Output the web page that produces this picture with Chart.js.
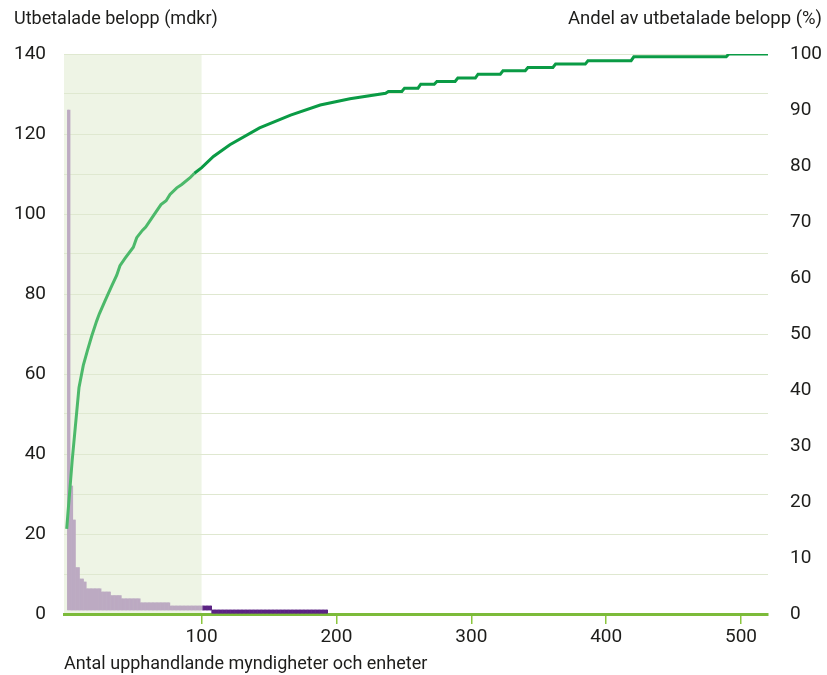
<!DOCTYPE html>
<html>
<head>
<meta charset="utf-8">
<script src="https://cdn.jsdelivr.net/npm/chart.js@4/dist/chart.umd.min.js"></script>
<style>
  html, body { margin: 0; padding: 0; background: #fff; }
  #wrap { width: 827px; height: 675px; }
</style>
</head>
<body>
<div id="wrap"><canvas id="chart" width="827" height="675"></canvas></div>
<script>
// Amounts per procuring unit (mdkr), sorted descending. Rank 1..100 = light, 101.. = dark
const lightAmounts = [
  126, 126, 32, 32, 23.5, 23.5, 11.6, 11.6, 11.6, 8.75,
  8.75, 8.75, 8, 8, 6.3, 6.3, 6.3, 6.3, 6.3, 6.3,
  6.3, 6.3, 6.3, 6.3, 6.3, 5.5, 5.5, 5.5, 5.5, 5.5,
  5.5, 5.5, 4.6, 4.6, 4.6, 4.6, 4.6, 4.6, 4.6, 4.6,
  3.8, 3.8, 3.8, 3.8, 3.8, 3.8, 3.8, 3.8, 3.8, 3.8,
  3.8, 3.8, 3.8, 3.8, 2.8, 2.8, 2.8, 2.8, 2.8, 2.8,
  2.8, 2.8, 2.8, 2.8, 2.8, 2.8, 2.8, 2.8, 2.8, 2.8,
  2.8, 2.8, 2.8, 2.8, 2.8, 2.8, 2, 2, 2, 2,
  2, 2, 2, 2, 2, 2, 2, 2, 2, 2,
  2, 2, 2, 2, 2, 2, 2, 2, 2, 2
];
const darkAmounts = [
  2, 2, 2, 2, 2, 2, 2, 0.2, 0.2, 0.2,
  0.2, 0.2, 0.2, 0.2, 0.2, 0.2, 0.2, 0.2, 0.2, 0.2,
  0.2, 0.2, 0.2, 0.2, 0.2, 0.2, 0.2, 0.2, 0.2, 0.2,
  0.2, 0.2, 0.2, 0.2, 0.2, 0.2, 0.2, 0.2, 0.2, 0.2,
  0.2, 0.2, 0.2, 0.2, 0.2, 0.2, 0.2, 0.2, 0.2, 0.2,
  0.2, 0.2, 0.2, 0.2, 0.2, 0.2, 0.2, 0.2, 0.2, 0.2,
  0.2, 0.2, 0.2, 0.2, 0.2, 0.2, 0.2, 0.2, 0.2, 0.2,
  0.2, 0.2, 0.2, 0.2, 0.2, 0.2, 0.2, 0.2, 0.2, 0.2,
  0.2, 0.2, 0.2, 0.2, 0.2, 0.2, 0.2, 0.2, 0.2, 0.2,
  0.2, 0.2, 0.2
];
const barBase = 1;

// Cumulative share of paid amounts (%)
const shareX = [0, 4.1, 9.1, 12.3, 15.3, 18.5, 22.2, 24.2, 28.4, 33.4, 37.1, 39.5, 43.2, 49.4, 51.9, 56.1, 58.6,
  64.2, 69.9, 73.7, 76.6, 81.6, 85.3, 91.5, 94.7, 100.1, 108.8, 121, 143, 166, 188, 210, 236.5,
  238.5, 248.5, 250.5, 260.5, 262.5, 272.5, 274.5, 288, 290, 303, 305, 321.5, 323.5, 340, 342,
  360.5, 362.5, 384.5, 386.5, 418.5, 420.5, 489, 491, 521];
const shareY = [15.2, 27.5, 40.4, 44.4, 47.0, 49.6, 52.3, 53.6, 55.9, 58.6, 60.5, 62.2, 63.5, 65.5, 67.2, 68.5, 69.1,
  71.1, 73.1, 73.8, 74.9, 76.1, 76.7, 77.9, 78.7, 79.7, 81.7, 83.8, 86.8, 89.1, 90.9, 92.0, 93.0,
  93.3, 93.3, 93.9, 93.9, 94.6, 94.6, 95.1, 95.1, 95.7, 95.7, 96.4, 96.4, 97.0, 97.0, 97.6,
  97.6, 98.2, 98.2, 98.8, 98.8, 99.5, 99.5, 100, 100];

const xTicks = [100, 200, 300, 400, 500];
const highlightEnd = 100;

const leftTitle = 'Utbetalade belopp (mdkr)';
const rightTitle = 'Andel av utbetalade belopp (%)';
const xTitle = 'Antal upphandlande myndigheter och enheter';

const FONT = 'Roboto';
const TEXT = '#1d1d1b';

const shadePlugin = {
  id: 'shade',
  beforeDraw(chart) {
    const { ctx, chartArea, scales } = chart;
    const xr = scales.x.getPixelForValue(highlightEnd);
    ctx.save();
    ctx.fillStyle = '#eef4e5';
    ctx.fillRect(chartArea.left, chartArea.top, xr - chartArea.left, chartArea.bottom - chartArea.top);
    ctx.restore();
  }
};

const titlesPlugin = {
  id: 'titles',
  afterDraw(chart) {
    const ctx = chart.ctx;
    ctx.save();
    ctx.fillStyle = TEXT;
    ctx.font = '18px ' + FONT;
    ctx.textBaseline = 'alphabetic';
    ctx.textAlign = 'left';
    ctx.fillText(leftTitle, 14, 24);
    ctx.fillText(xTitle, 64, 669);
    ctx.textAlign = 'right';
    ctx.font = '18.5px ' + FONT;
    ctx.fillText(rightTitle, 822, 24);
    ctx.restore();
  }
};

new Chart(document.getElementById('chart'), {
  data: {
    datasets: [
      {
        type: 'line',
        data: shareX.map((x, i) => ({ x: x, y: shareY[i] })),
        yAxisID: 'y1',
        borderWidth: 3,
        pointRadius: 0,
        tension: 0,
        order: 0,
        segment: {
          borderColor: c => c.p1.parsed.x <= highlightEnd ? '#4cb96a' : '#0a9b45'
        },
        borderColor: '#0a9b45'
      },
      {
        type: 'bar',
        data: lightAmounts.map((v, i) => ({ x: i + 1, y: v })),
        yAxisID: 'y',
        base: barBase,
        backgroundColor: '#bcaac2',
        barPercentage: 1,
        categoryPercentage: 1,
        grouped: false,
        order: 1
      },
      {
        type: 'bar',
        data: darkAmounts.map((v, i) => ({ x: lightAmounts.length + i + 1, y: v })),
        yAxisID: 'y',
        base: barBase,
        backgroundColor: '#5b2383',
        barPercentage: 1,
        categoryPercentage: 1,
        grouped: false,
        order: 1
      }
    ]
  },
  options: {
    responsive: false,
    animation: false,
    layout: { padding: { top: 54, left: 0, right: 0, bottom: 0 } },
    plugins: { legend: { display: false }, tooltip: { enabled: false } },
    scales: {
      x: {
        type: 'linear',
        min: -2,
        max: 520,
        offset: false,
        afterBuildTicks: s => { s.ticks = xTicks.map(v => ({ value: v })); },
        afterFit: s => { s.height = 61; },
        grid: { offset: false, drawOnChartArea: false, color: '#8cc63f', lineWidth: 1.5, tickLength: 10 },
        border: { color: '#7cbb3a', width: 3 },
        ticks: { font: { family: FONT, size: 19 }, color: TEXT, padding: 2, maxRotation: 0 }
      },
      y: {
        position: 'left',
        min: 0,
        max: 140,
        afterFit: s => { s.width = 64; },
        ticks: {
          stepSize: 10,
          padding: 18,
          font: { family: FONT, size: 19 },
          color: TEXT,
          callback: v => v % 20 === 0 ? v : ''
        },
        grid: { color: '#dfe8d0', lineWidth: 1, drawTicks: false },
        border: { display: false }
      },
      y1: {
        position: 'right',
        min: 0,
        max: 100,
        afterFit: s => { s.width = 59; },
        ticks: { stepSize: 10, padding: 22, font: { family: FONT, size: 19 }, color: TEXT },
        grid: { display: false, drawTicks: false },
        border: { display: false }
      }
    }
  },
  plugins: [shadePlugin, titlesPlugin]
});
</script>
</body>
</html>
